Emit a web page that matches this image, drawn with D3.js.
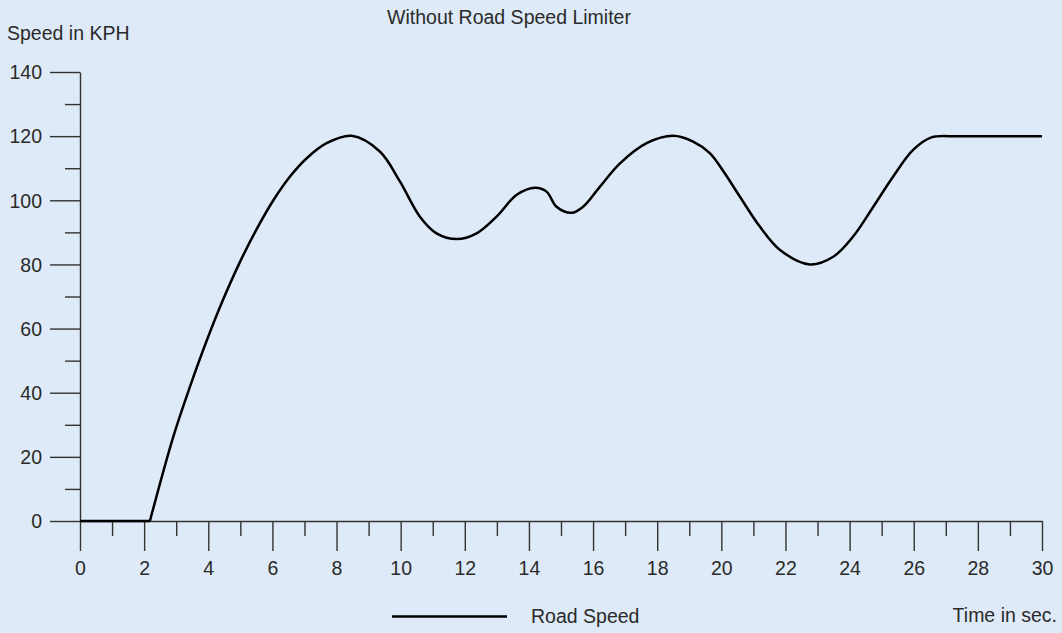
<!DOCTYPE html>
<html>
<head>
<meta charset="utf-8">
<script src="https://cdn.jsdelivr.net/npm/d3@7"></script>
<style>
  body { margin: 0; background: #deeaf8; }
  svg { display: block; font-family: "Liberation Sans", Arial, Helvetica, sans-serif; }
  .axis path, .axis line { stroke: #333; stroke-width: 1.4; }
  .axis text { fill: #2a2a2a; font-size: 19.5px; }
  .label { fill: #2a2a2a; font-size: 19.5px; }
</style>
</head>
<body>
<div id="chart"></div>
<script>
// time in sec.
const times = [0, 2.18, 2.91, 3.43, 3.95, 4.47, 4.99, 5.51, 6.03, 6.55, 7.07, 7.69, 8.47,
  9.35, 9.98, 10.6, 11.12, 11.75, 12.37, 12.99, 13.62, 14.19, 14.55, 14.86, 15.33, 15.69,
  16.21, 16.84, 17.67, 18.5, 19.12, 19.64, 20.1, 20.58, 21.2, 21.83, 22.76, 23.49, 24.11,
  24.74, 25.36, 25.98, 26.55, 27.1, 30];
// road speed in KPH
const speeds = [0, 0, 26.3, 41.9, 56.2, 69.2, 80.8, 91.0, 100.0, 107.4, 113.1, 117.8, 120.1,
  115.2, 105.8, 94.9, 89.7, 87.9, 89.7, 94.9, 101.7, 103.9, 102.7, 98, 96.1, 98,
  104.2, 111.5, 117.8, 120.1, 118.3, 114.7, 108.5, 101.1, 91.8, 84.5, 80, 82.4, 88.7,
  98, 107.4, 115.7, 119.6, 120, 120];

const majorX = d3.range(0, 31, 2);
const minorX = d3.range(1, 30, 2);
const majorY = d3.range(0, 141, 20);
const minorY = d3.range(10, 140, 20);

const W = 1062, H = 633;
const margin = { top: 72, right: 20, bottom: 112, left: 80 };

const svg = d3.select("#chart").append("svg")
  .attr("width", W)
  .attr("height", H);

const x = d3.scaleLinear().domain([0, 30]).range([margin.left, 1042]);
const y = d3.scaleLinear().domain([0, 140]).range([521, margin.top]);

// y axis
svg.append("g")
  .attr("class", "axis")
  .attr("transform", `translate(${margin.left},0)`)
  .call(d3.axisLeft(y).tickValues(majorY).tickSize(30).tickSizeOuter(0).tickPadding(8))
  .call(g => g.selectAll("text").attr("dy", "0.35em"));

svg.append("g")
  .attr("class", "axis")
  .attr("transform", `translate(${margin.left},0)`)
  .call(d3.axisLeft(y).tickValues(minorY).tickSize(15).tickFormat(""))
  .call(g => g.select(".domain").remove());

// x axis
svg.append("g")
  .attr("class", "axis")
  .attr("transform", "translate(0,521)")
  .call(d3.axisBottom(x).tickValues(majorX).tickSize(30).tickSizeOuter(0).tickPadding(10))
  .call(g => g.selectAll("text").attr("dy", "0.71em"));

svg.append("g")
  .attr("class", "axis")
  .attr("transform", "translate(0,521)")
  .call(d3.axisBottom(x).tickValues(minorX).tickSize(15).tickFormat(""))
  .call(g => g.select(".domain").remove());

// road speed line
const pts = times.map((t, i) => ({ t: t, v: speeds[i] }));
const line = d3.line().x(d => x(d.t)).y(d => y(d.v));
const n = pts.length;

// flat parts (standing still, limiter-free cruise) straight, the rest smooth
const pieces = [
  [pts.slice(0, 2), d3.curveLinear],
  [pts.slice(1, n - 1), d3.curveCatmullRom.alpha(0.5)],
  [pts.slice(n - 2), d3.curveLinear]
];

pieces.forEach(([d, curve]) => {
  svg.append("path")
    .datum(d)
    .attr("fill", "none")
    .attr("stroke", "#000")
    .attr("stroke-width", 2.5)
    .attr("stroke-linejoin", "round")
    .attr("d", line.curve(curve));
});

// texts
svg.append("text").attr("class", "label")
  .attr("x", 509).attr("y", 24).attr("text-anchor", "middle")
  .text("Without Road Speed Limiter");

svg.append("text").attr("class", "label")
  .attr("x", 7).attr("y", 40)
  .text("Speed in KPH");

svg.append("text").attr("class", "label")
  .attr("x", 1057).attr("y", 622).attr("text-anchor", "end")
  .text("Time in sec.");

// legend
svg.append("line")
  .attr("x1", 392).attr("x2", 507)
  .attr("y1", 616.5).attr("y2", 616.5)
  .attr("stroke", "#000").attr("stroke-width", 2.5);

svg.append("text").attr("class", "label")
  .attr("x", 531).attr("y", 623)
  .text("Road Speed");
</script>
</body>
</html>
